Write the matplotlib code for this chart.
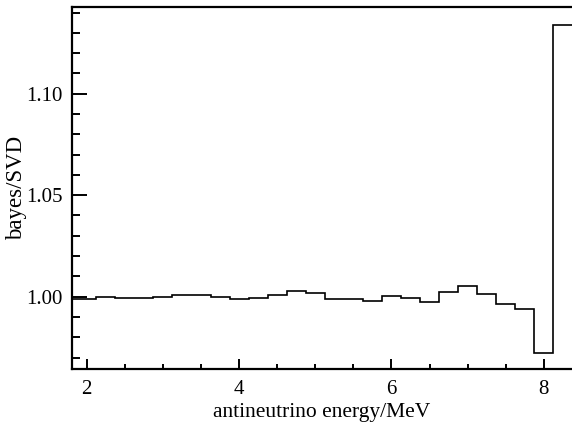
import matplotlib
matplotlib.use("Agg")
import matplotlib.pyplot as plt
import numpy as np
from matplotlib.ticker import MultipleLocator, FormatStrFormatter

# bin edges in MeV (0.25 MeV bins), first bin is cut by the axis
bin_edges = [1.625, 1.875, 2.125, 2.375, 2.625, 2.875, 3.125, 3.375, 3.625,
             3.875, 4.125, 4.375, 4.625, 4.875, 5.125, 5.375, 5.625, 5.875,
             6.125, 6.375, 6.625, 6.875, 7.125, 7.375, 7.625, 7.875, 8.125,
             8.375]
# ratio bayes/SVD per bin
ratio = [0.9987, 0.9987, 0.9999, 0.9994, 0.9995, 1.0000, 1.0010, 1.0007,
         0.9997, 0.9990, 0.9992, 1.0010, 1.0030, 1.0017, 0.9989, 0.9987,
         0.9980, 1.0003, 0.9995, 0.9975, 1.0022, 1.0054, 1.0013, 0.9966,
         0.9941, 0.9724, 1.1338]

plt.rcParams['font.family'] = ['Liberation Serif', 'DejaVu Serif']

fig = plt.figure(figsize=(5.72, 4.28), dpi=100)
ax = fig.add_axes([0.1259, 0.1371, 0.8741, 0.8459])

ax.stairs(ratio, bin_edges, color='black', linewidth=1.2, baseline=None)

ax.set_xlim(1.807, 8.37)
ax.set_ylim(0.9642, 1.1426)

ax.xaxis.set_major_locator(MultipleLocator(2))
ax.xaxis.set_minor_locator(MultipleLocator(0.5))
ax.yaxis.set_major_locator(MultipleLocator(0.05))
ax.yaxis.set_minor_locator(MultipleLocator(0.01))
ax.yaxis.set_major_formatter(FormatStrFormatter('%.2f'))

ax.tick_params(axis='both', which='both', direction='in', width=1.4,
               labelsize=15, top=False, right=False)
ax.tick_params(axis='y', which='major', length=10.8, pad=6.5)
ax.tick_params(axis='y', which='minor', length=5.8)
ax.tick_params(axis='x', which='major', length=7.2, pad=7.5)
ax.tick_params(axis='x', which='minor', length=3.6)

for side in ['left', 'bottom', 'top']:
    ax.spines[side].set_linewidth(1.6)
ax.spines['right'].set_visible(False)

ax.set_xlabel('antineutrino energy/MeV', fontsize=15.5, labelpad=3)
ax.set_ylabel('bayes/SVD', fontsize=16.5, labelpad=-0.5)

fig.savefig('out.png', dpi=100)
